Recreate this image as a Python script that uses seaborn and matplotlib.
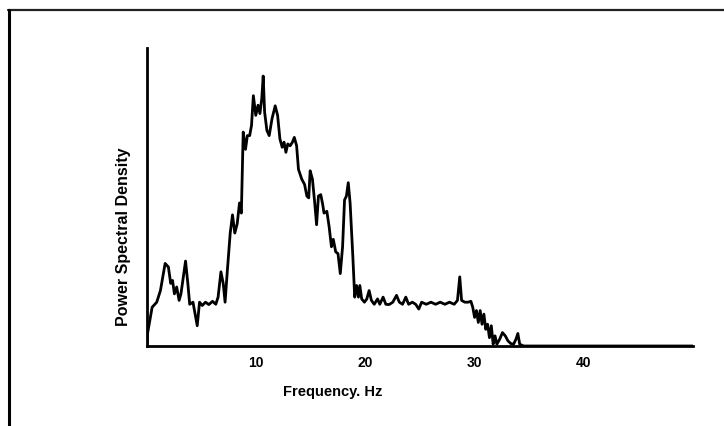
import matplotlib
matplotlib.use("Agg")
import matplotlib.pyplot as plt
from matplotlib.lines import Line2D
import numpy as np
import pandas as pd
import seaborn as sns

# EEG power spectrum: frequency (Hz) and relative power spectral density
freq = [0.0, 0.04, 0.47, 0.89, 1.23, 1.66, 1.96, 2.17, 2.34, 2.51, 2.72, 2.94,
        3.11, 3.32, 3.53, 3.74, 3.91, 4.21, 4.60, 4.81, 5.06, 5.36, 5.66, 6.00,
        6.30, 6.51, 6.77, 6.98, 7.15, 7.36, 7.62, 7.83, 8.04, 8.26, 8.47, 8.64,
        8.81, 9.02, 9.19, 9.40, 9.57, 9.74, 9.96, 10.17, 10.34, 10.51, 10.64,
        10.77, 10.98, 11.19, 11.45, 11.74, 11.96, 12.17, 12.38, 12.55, 12.72,
        12.89, 13.11, 13.32, 13.49, 13.70, 13.87, 14.17, 14.43, 14.64, 14.81,
        14.94, 15.15, 15.36, 15.53, 15.70, 15.91, 16.09, 16.21, 16.47, 16.68,
        16.89, 17.06, 17.28, 17.49, 17.70, 17.91, 18.09, 18.26, 18.43, 18.60,
        18.85, 19.02, 19.19, 19.36, 19.49, 19.66, 19.91, 20.13, 20.34, 20.55,
        20.81, 21.11, 21.32, 21.62, 21.87, 22.17, 22.51, 22.85, 23.11, 23.40,
        23.70, 23.96, 24.30, 24.60, 24.89, 25.15, 25.57, 26.00, 26.43, 26.85,
        27.28, 27.70, 28.13, 28.43, 28.64, 28.81, 29.11, 29.40, 29.66, 29.83,
        30.00, 30.17, 30.34, 30.51, 30.68, 30.85, 31.02, 31.19, 31.36, 31.53,
        31.70, 31.87, 32.04, 32.30, 32.55, 32.81, 33.06, 33.32, 33.57, 33.79,
        33.96, 34.13, 34.50, 50.0]
psd = [0.5, 4.0, 13.0, 14.7, 18.6, 27.7, 26.5, 21.0, 22.0, 17.5, 19.8, 15.3,
       17.5, 23.0, 28.5, 21.0, 14.0, 14.7, 6.8, 14.7, 13.6, 14.7, 13.9, 15.0,
       14.0, 16.4, 24.9, 21.0, 14.7, 25.4, 37.9, 44.0, 37.9, 41.0, 48.0, 44.6,
       71.8, 66.0, 70.6, 70.6, 74.0, 84.0, 77.4, 80.8, 78.0, 83.0, 90.6,
       78.5, 72.3, 70.6, 76.3, 80.6, 77.4, 69.5, 66.7, 68.4, 65.0,
       67.8, 67.2, 68.4, 70.0, 67.2, 59.3, 56.0, 54.2, 50.3, 49.7,
       58.8, 56.0, 48.0, 40.7, 50.3, 50.8, 47.5, 44.6, 45.2, 40.0,
       33.3, 35.8, 31.6, 31.0, 24.3, 33.3, 49.0, 50.3, 54.8, 48.0,
       30.0, 16.4, 20.3, 16.4, 20.3, 15.8, 14.7, 15.8, 18.6, 15.3,
       14.0, 15.8, 14.0, 16.4, 14.0, 13.9, 14.7, 17.0, 14.7, 14.0,
       16.4, 14.0, 14.7, 14.0, 12.4, 14.7, 14.0, 14.7, 14.0, 14.7,
       14.0, 14.7, 14.0, 15.3, 23.2, 15.3, 14.7, 14.7, 15.0, 13.0,
       9.6, 11.9, 7.9, 11.9, 7.3, 10.7, 5.6, 7.3, 2.8, 6.8,
       0.6, 3.4, 0.6, 2.3, 4.5, 3.4, 1.7, 0.8, 0.6, 2.3,
       4.2, 0.6, 0.0, 0.0]
xticks = [10, 20, 30, 40]

df = pd.DataFrame({"Frequency": freq, "PSD": psd})

sns.set_style("white")
plt.rcParams["font.family"] = ["Liberation Sans", "DejaVu Sans"]

fig = plt.figure(figsize=(7.24, 4.26), dpi=100)
ax = fig.add_axes([147 / 724, 1 - 346 / 426, 546 / 724, 298 / 426])

sns.lineplot(data=df, x="Frequency", y="PSD", ax=ax, color="black",
             linewidth=2.0, estimator=None, sort=False)

ax.set_xlim(0, 50)
ax.set_ylim(0, 100)
ax.set_xticks(xticks)
ax.set_xticklabels([str(t) for t in xticks], fontsize=10, fontweight="bold",
                   color="black")
ax.set_yticks([])
ax.tick_params(axis="x", direction="in", length=3, width=1, pad=7, colors="black")

for side in ("top", "right"):
    ax.spines[side].set_visible(False)
for side in ("left", "bottom"):
    ax.spines[side].set_color("black")
    ax.spines[side].set_linewidth(2.0)

ax.set_xlabel("Frequency. Hz", fontsize=10.5, fontweight="bold", color="black")
ax.set_ylabel("Power Spectral Density", fontsize=11.5, fontweight="bold",
              color="black")
ax.xaxis.set_label_coords((333 - 147) / 546, (346 - 385) / 298)
ax.yaxis.set_label_coords((131 - 147) / 546, (346 - 237) / 298)

# outer frame: top and left edges
fig.add_artist(Line2D([8 / 724, 1.0], [1 - 10 / 426, 1 - 10 / 426],
                      transform=fig.transFigure, color="#222222", linewidth=1.6))
fig.add_artist(Line2D([9 / 724, 9 / 724], [0.0, 1 - 10 / 426],
                      transform=fig.transFigure, color="black", linewidth=2.2))

fig.savefig("out.png", dpi=100, facecolor="white")
